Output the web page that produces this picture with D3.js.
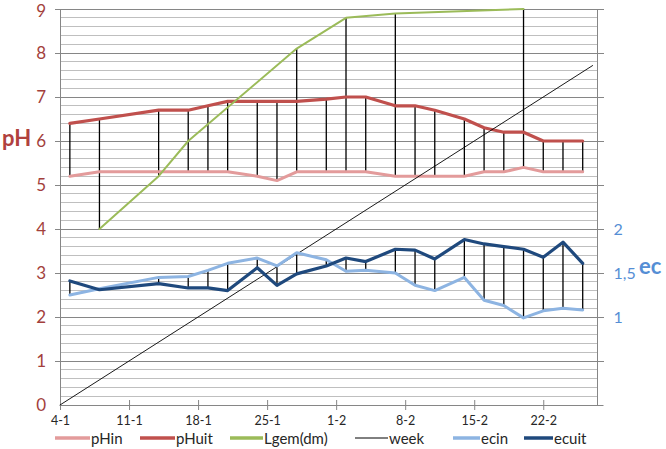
<!DOCTYPE html>
<html><head><meta charset="utf-8">
<script src="https://cdn.jsdelivr.net/npm/d3@7"></script>
<style>body{margin:0;background:#fff}svg{display:block}text{font-family:Lato,"Open Sans",sans-serif}</style>
</head><body><svg id="c" width="666" height="449"></svg>
<script>
// ---- data ----
const phDates = ["5-1","8-1","14-1","17-1","19-1","21-1","24-1","26-1","28-1","31-1","2-2","4-2","7-2","9-2","11-2","14-2","16-2","18-2","20-2","22-2","24-2","26-2"];
const pHin  = [5.2,5.3,5.3,5.3,5.3,5.3,5.2,5.1,5.3,5.3,5.3,5.3,5.2,5.2,5.2,5.2,5.3,5.3,5.4,5.3,5.3,5.3];
const pHuit = [6.4,6.5,6.7,6.7,6.8,6.9,6.9,6.9,6.9,6.95,7.0,7.0,6.8,6.8,6.7,6.5,6.3,6.2,6.2,6.0,6.0,6.0];
const ecin  = [1.25,1.32,1.45,1.46,1.53,1.61,1.67,1.58,1.73,1.65,1.52,1.53,1.50,1.36,1.30,1.45,1.19,1.13,0.99,1.07,1.10,1.08];
const ecuit = [1.41,1.31,1.38,1.33,1.33,1.30,1.56,1.36,1.49,1.58,1.67,1.63,1.77,1.76,1.66,1.88,1.83,1.80,1.77,1.68,1.85,1.61];
const lgemDates = ["8-1","14-1","17-1","28-1","2-2","7-2","20-2"];
const lgem = [4.0,5.2,6.0,8.1,8.8,8.9,9.0];
const weekDates = ["4-1","27-2"];
const week = [0, 7.714];
const xTickLabels = ["4-1","11-1","18-1","25-1","1-2","8-2","15-2","22-2"];
const yTicksLeft = [0,1,2,3,4,5,6,7,8,9];
const yTicksRight = [1,1.5,2];
const seriesNames = ["pHin","pHuit","Lgem(dm)","week","ecin","ecuit"];
const seriesColors = ["#E39B9B","#C0504D","#9BBB59","#000000","#8DB4E2","#1F497D"];

// ---- setup ----
const parse = d3.timeParse("%d-%m");
const svg = d3.select("#c");
const L = 60, R = 597.5, T = 9, B = 405;
const x = d3.scaleTime().domain([parse("4-1"), d3.timeHour.offset(parse("27-2"), 12)]).range([L, R]);
const y = d3.scaleLinear().domain([0, 9]).range([B, T]);
const y2 = d3.scaleLinear().domain([0, 4.5]).range([B, T]);

// gridlines
const minor = d3.range(0, 9.001, 0.2).filter(v => Math.abs(v - Math.round(v)) > 0.01);
svg.append("g").selectAll("line").data(minor).join("line")
  .attr("x1", L).attr("x2", R).attr("y1", d => y(d)).attr("y2", d => y(d))
  .attr("stroke", "#BFBFBF").attr("stroke-width", 1).attr("shape-rendering","crispEdges");
svg.append("g").selectAll("line").data(yTicksLeft.slice(1)).join("line")
  .attr("x1", L - 5).attr("x2", R + 6).attr("y1", d => y(d)).attr("y2", d => y(d))
  .attr("stroke", "#868686").attr("stroke-width", 1).attr("shape-rendering","crispEdges");

// axes lines
svg.append("line").attr("x1", L).attr("x2", L).attr("y1", T).attr("y2", B).attr("stroke", "#868686").attr("shape-rendering","crispEdges");
svg.append("line").attr("x1", R).attr("x2", R).attr("y1", T).attr("y2", B).attr("stroke", "#868686").attr("shape-rendering","crispEdges");

// x axis
const xTickDates = xTickLabels.map(parse);
const xAxis = d3.axisBottom(x).tickValues(xTickDates).tickFormat(d3.timeFormat("%-d-%-m")).tickSizeInner(5).tickSizeOuter(0).tickPadding(6);
const gx = svg.append("g").attr("transform", `translate(0,${B})`).call(xAxis);
gx.select(".domain").attr("stroke", "#868686").attr("d", `M${L},0.5H${R + 6}`);
gx.selectAll(".tick line").attr("stroke", "#868686").attr("y1", -5).attr("y2", 5);
gx.selectAll(".tick text").attr("font-size", 12.5).attr("fill", "#262626").attr("y", 19.5).attr("dy", 0);

// left axis labels
const yAxis = d3.axisLeft(y).tickValues(yTicksLeft).tickSize(0).tickPadding(14);
const gy = svg.append("g").attr("transform", `translate(${L},0)`).call(yAxis);
gy.select(".domain").remove();
gy.selectAll(".tick text").attr("font-size", 17).attr("fill", "#A33F3C");
gy.selectAll(".tick").filter(d => d === 9).select("text").attr("dy", "0.42em");
// right axis labels
const yAxis2 = d3.axisRight(y2).tickValues(yTicksRight).tickSize(0).tickPadding(16).tickFormat(d => d3.format("")(d).replace(".", ","));
const gy2 = svg.append("g").attr("transform", `translate(${R},0)`).call(yAxis2);
gy2.select(".domain").remove();
gy2.selectAll(".tick text").attr("font-size", 16).attr("fill", "#558ED5");

// axis titles
svg.append("text").attr("x", 2).attr("y", 146).attr("font-size", 22).attr("font-weight", "bold").attr("fill", "#B0413E").text("pH");
svg.append("text").attr("x", 639).attr("y", 274).attr("font-size", 22).attr("font-weight", "bold").attr("fill", "#558ED5").text("ec");

// hi-low lines, primary group
const prim = new Map();
phDates.forEach((d, i) => prim.set(d, [pHin[i], pHuit[i]]));
lgemDates.forEach((d, i) => { if (!prim.has(d)) prim.set(d, []); prim.get(d).push(lgem[i]); });
const hl1 = Array.from(prim, ([d, vals]) => ({ d: parse(d), lo: d3.min(vals), hi: d3.max(vals) }));
svg.append("g").selectAll("line").data(hl1).join("line")
  .attr("x1", d => x(d.d)).attr("x2", d => x(d.d)).attr("y1", d => y(d.lo)).attr("y2", d => y(d.hi))
  .attr("stroke", "#000").attr("stroke-width", 1.3);
// hi-low secondary group
const hl2 = phDates.map((d, i) => ({ d: parse(d), lo: Math.min(ecin[i], ecuit[i]), hi: Math.max(ecin[i], ecuit[i]) }));
svg.append("g").selectAll("line").data(hl2).join("line")
  .attr("x1", d => x(d.d)).attr("x2", d => x(d.d)).attr("y1", d => y2(d.lo)).attr("y2", d => y2(d.hi))
  .attr("stroke", "#000").attr("stroke-width", 1.3);

// series
function drawLine(dates, vals, scale, color, w) {
  const pts = dates.map((d, i) => [parse(d), vals[i]]);
  svg.append("path").datum(pts)
    .attr("d", d3.line().x(p => x(p[0])).y(p => scale(p[1])))
    .attr("fill", "none").attr("stroke", color).attr("stroke-width", w)
    .attr("stroke-linejoin", "round").attr("stroke-linecap", "round");
}
drawLine(phDates, pHin, y, seriesColors[0], 3);
drawLine(phDates, pHuit, y, seriesColors[1], 3.2);
drawLine(lgemDates, lgem, y, seriesColors[2], 2);
drawLine(weekDates, week, y, seriesColors[3], 0.9);
drawLine(phDates, ecin, y2, seriesColors[4], 3);
drawLine(phDates, ecuit, y2, seriesColors[5], 3.2);

// legend
const legX = [55, 140, 230, 355, 453, 524];
const legW = [35, 35, 33, 33, 27, 29];
const legY = 438;
const lg = svg.append("g");
seriesNames.forEach((n, i) => {
  lg.append("line").attr("x1", legX[i]).attr("x2", legX[i] + legW[i]).attr("y1", legY).attr("y2", legY)
    .attr("stroke", seriesColors[i]).attr("stroke-width", i === 3 ? 1 : 3.5);
  lg.append("text").attr("x", legX[i] + legW[i] + 1).attr("y", legY + 5.5)
    .attr("font-size", 15).attr("fill", "#262626").text(n);
});
</script></body></html>
